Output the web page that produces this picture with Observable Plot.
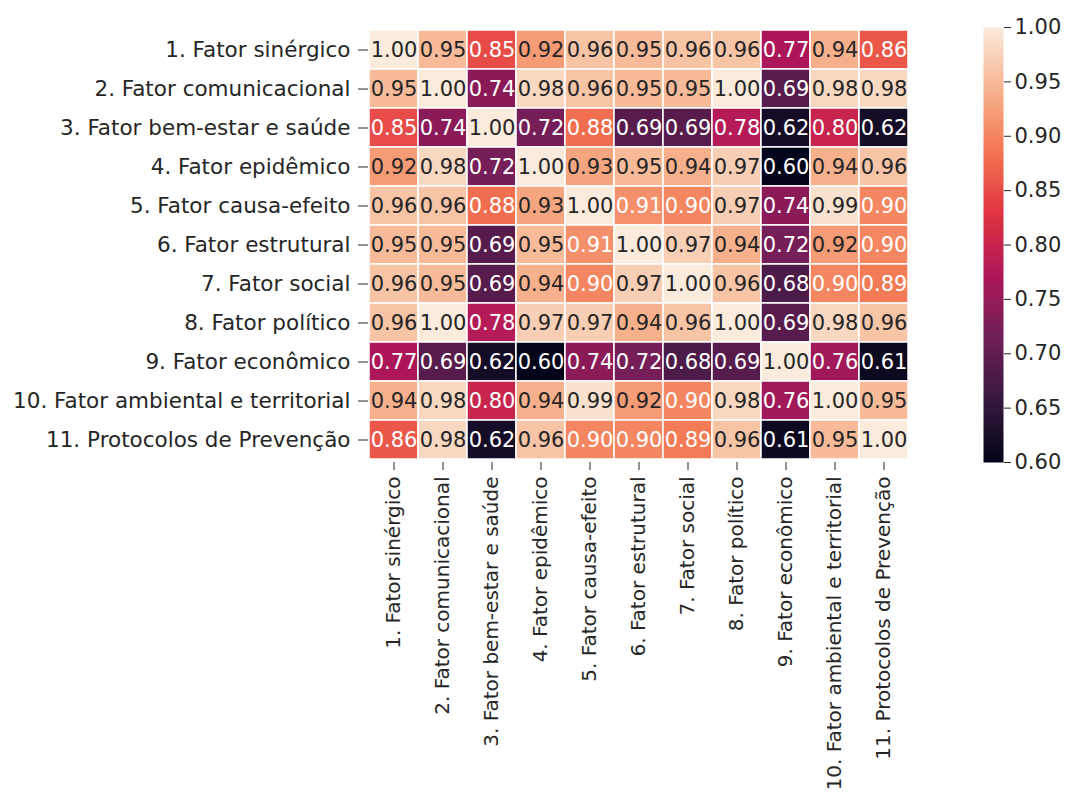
<!DOCTYPE html>
<html>
<head>
<meta charset="utf-8">
<script src="https://cdn.jsdelivr.net/npm/d3@7"></script>
<script src="https://cdn.jsdelivr.net/npm/@observablehq/plot@0.6"></script>
<style>
  body { margin: 0; background: #ffffff; }
  #chart { position: relative; width: 1070px; height: 792px; overflow: hidden; font-family: "DejaVu Sans", sans-serif; }
  #chart svg { position: absolute; top: 0; }
</style>
</head>
<body>
<div id="chart"></div>
<script>
// Factor names (rows and columns of the correlation matrix)
const factors = [
  "1. Fator sinérgico",
  "2. Fator comunicacional",
  "3. Fator bem-estar e saúde",
  "4. Fator epidêmico",
  "5. Fator causa-efeito",
  "6. Fator estrutural",
  "7. Fator social",
  "8. Fator político",
  "9. Fator econômico",
  "10. Fator ambiental e territorial",
  "11. Protocolos de Prevenção"
];

// Correlation coefficients, one row per factor
const correlations = [
  [1.00, 0.95, 0.85, 0.92, 0.96, 0.95, 0.96, 0.96, 0.77, 0.94, 0.86],
  [0.95, 1.00, 0.74, 0.98, 0.96, 0.95, 0.95, 1.00, 0.69, 0.98, 0.98],
  [0.85, 0.74, 1.00, 0.72, 0.88, 0.69, 0.69, 0.78, 0.62, 0.80, 0.62],
  [0.92, 0.98, 0.72, 1.00, 0.93, 0.95, 0.94, 0.97, 0.60, 0.94, 0.96],
  [0.96, 0.96, 0.88, 0.93, 1.00, 0.91, 0.90, 0.97, 0.74, 0.99, 0.90],
  [0.95, 0.95, 0.69, 0.95, 0.91, 1.00, 0.97, 0.94, 0.72, 0.92, 0.90],
  [0.96, 0.95, 0.69, 0.94, 0.90, 0.97, 1.00, 0.96, 0.68, 0.90, 0.89],
  [0.96, 1.00, 0.78, 0.97, 0.97, 0.94, 0.96, 1.00, 0.69, 0.98, 0.96],
  [0.77, 0.69, 0.62, 0.60, 0.74, 0.72, 0.68, 0.69, 1.00, 0.76, 0.61],
  [0.94, 0.98, 0.80, 0.94, 0.99, 0.92, 0.90, 0.98, 0.76, 1.00, 0.95],
  [0.86, 0.98, 0.62, 0.96, 0.90, 0.90, 0.89, 0.96, 0.61, 0.95, 1.00]
];

// Colour bar range and ticks
const colorDomain = [0.60, 1.00];
const colorbarTicks = [0.60, 0.65, 0.70, 0.75, 0.80, 0.85, 0.90, 0.95, 1.00];

// "rocket" sequential palette, evenly spaced stops
const rocketStops = ["#03051a", "#35193e", "#701f57", "#ad1759", "#e13342", "#f37651", "#f6b48f", "#faebdd"];
const rocket = d3.piecewise(d3.interpolateRgb, rocketStops);
const colorOf = v => rocket((v - colorDomain[0]) / (colorDomain[1] - colorDomain[0]));

// Relative luminance, used to pick a legible annotation colour
function luminance(c) {
  const { r, g, b } = d3.rgb(c);
  const lin = x => { x /= 255; return x <= 0.03928 ? x / 12.92 : Math.pow((x + 0.055) / 1.055, 2.4); };
  return 0.2126 * lin(r) + 0.7152 * lin(g) + 0.0722 * lin(b);
}
const isLight = d => luminance(colorOf(d.value)) > 0.408;

const cells = correlations.flatMap((row, i) =>
  row.map((value, j) => ({ row: factors[i], col: factors[j], value }))
);

const ink = "#262626";
const font = { fontFamily: "'DejaVu Sans', sans-serif", fontSize: "21px", color: ink, background: "transparent" };

const heat = Plot.plot({
  width: 960,
  height: 792,
  marginLeft: 368,
  marginRight: 52,
  marginTop: 27,
  marginBottom: 330,
  style: font,
  x: { domain: factors, padding: 0, label: null },
  y: { domain: factors, padding: 0, label: null },
  color: { type: "linear", domain: colorDomain, interpolate: rocket, clamp: true },
  marks: [
    Plot.cell(cells, { x: "col", y: "row", fill: "value", stroke: "white", strokeWidth: 1.5 }),
    Plot.text(cells, { filter: isLight, x: "col", y: "row", text: d => d.value.toFixed(2), fill: ink, fontSize: 21 }),
    Plot.text(cells, { filter: d => !isLight(d), x: "col", y: "row", text: d => d.value.toFixed(2), fill: "white", fontSize: 21 }),
    Plot.axisY({ label: null, tickSize: 10, tickPadding: 8, fontSize: 21.5 }),
    Plot.axisX({ label: null, tickRotate: -90, tickSize: 8, tickPadding: 6, fontSize: 20 })
  ]
});
heat.style.left = "0px";

const bar = Plot.plot({
  width: 87,
  height: 792,
  marginLeft: 0,
  marginRight: 67,
  marginTop: 27,
  marginBottom: 330,
  style: font,
  x: { domain: [0, 1], axis: null },
  y: { domain: colorDomain, ticks: colorbarTicks, tickFormat: ".2f", axis: "right", tickSize: 7, tickPadding: 4, label: null, fontSize: 21.5 },
  color: { type: "linear", domain: colorDomain, interpolate: rocket },
  marks: [
    Plot.raster({ x1: 0, x2: 1, y1: colorDomain[0], y2: colorDomain[1], width: 1, height: 256, fill: (x, y) => y, imageRendering: "auto" })
  ]
});
bar.style.left = "983px";

const chart = document.getElementById("chart");
chart.append(heat, bar);
</script>
</body>
</html>
